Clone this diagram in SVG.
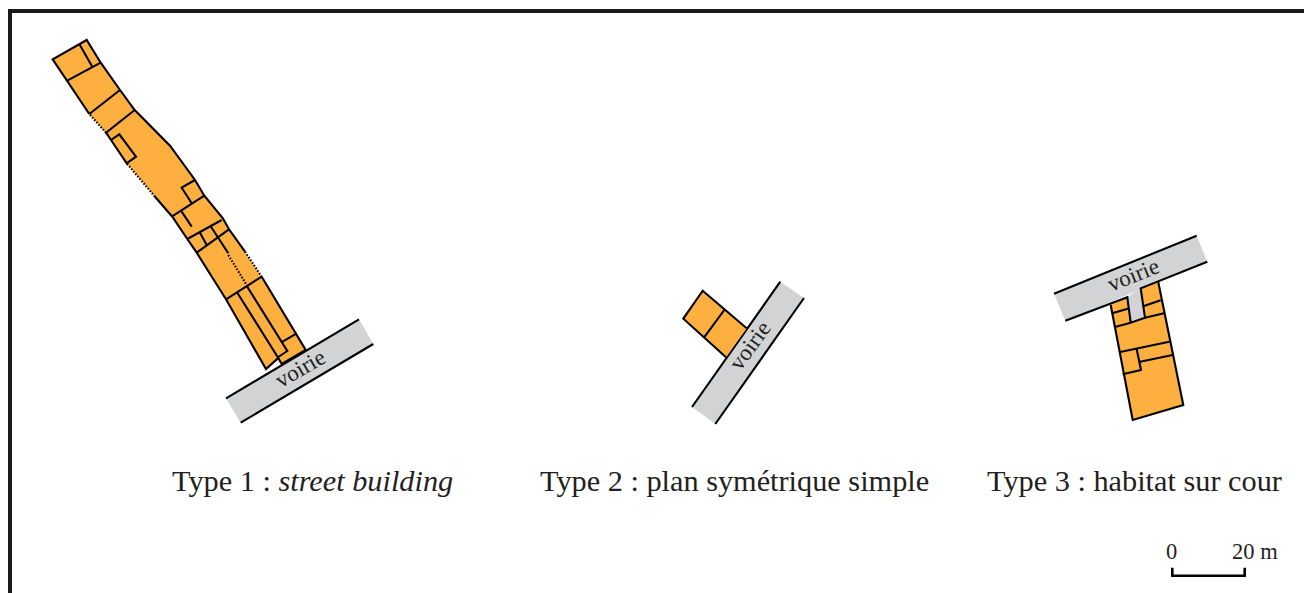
<svg xmlns="http://www.w3.org/2000/svg" width="1304" height="593" viewBox="0 0 1304 593">
<style>
.b{fill:#fdb03f;stroke:none}
.r{fill:#d1d3d4;stroke:none}
.l{fill:none;stroke:#000;stroke-width:2.1;stroke-linejoin:miter;stroke-linecap:butt}
.d{fill:none;stroke:#000;stroke-width:2.1;stroke-dasharray:1.6 1.6}
.t{font-family:"Liberation Serif","Times New Roman",serif;fill:#231f20}
.c{font-size:30.3px}
.v{font-size:23px;text-anchor:middle}
.s{font-size:22.5px}
</style>
<rect width="1304" height="593" fill="#fff"/>
<path d="M1304 11H10V593" fill="none" stroke="#1a1a1a" stroke-width="4"/>
<g id="type1">
<polygon class="r" points="226,398.3 359,319.3 373.3,344 240.7,422.7"/>
<path class="l" d="M226,398.3L359,319.3M240.7,422.7L373.3,344"/>
<polygon class="b" points="52.7,59.3 86.7,40 100.7,62.7 120,90 134.7,110 170,145.7 195,180 204.3,195.7 222.7,218 229,229.3 261.7,276.7 305.7,350 281.7,364 278.3,360 266,369 226,299.3 196.7,252.7 187.3,239 172.3,216.7 155,196.7 126.7,163.3 111,140 106,132.7 89.3,114"/>
<path class="l" d="M89.3,114L52.7,59.3L86.7,40L100.7,62.7L120,90L134.7,110L170,145.7L195,180L204.3,195.7L222.7,218L229,229.3L245,251.7"/>
<path class="d" d="M245,251.7L261.7,276.7"/>
<path class="l" d="M261.7,276.7L305.7,350L281.7,364L278.3,358L266,369L226,299.3L196.7,252.7L187.3,239L172.3,216.7L155,196.7"/>
<path class="d" d="M155,196.7L126.7,163.3"/>
<path class="d" d="M106,132.7L89.3,114"/>
<path class="l" d="M106,132.7L111,140L126.7,163.3L136,156.7L119.3,134.3L111,140"/>
<path class="l" d="M79.3,44L92.3,66.7M67.3,80.7L100.7,62.7M89.3,114L120,90M106,132.7L134.7,110"/>
<path class="l" d="M195,180L181.7,187.7L191.7,203.3M171.7,216.7L204.3,195.7M181.7,211.7L191.7,226.7"/>
<path class="l" d="M187.3,239L221.7,220M196.7,252.7L229,229.3M200,232.7L206.7,245M211,226.7L228.3,253.3"/>
<path class="d" d="M228.3,255L246.7,285"/>
<path class="l" d="M226,299.3L261.7,276.7M237.3,292.7L278.3,358M247.3,286.7L287.3,351L278.3,357M282.7,341.7L296.7,333.3"/>
<text class="t v" transform="translate(304,375) rotate(-30)">voirie</text>
</g>
<g id="type2">
<polygon class="r" points="780.3,281.7 804,298 715.3,424 692,407"/>
<path class="l" d="M780.3,281.7L692,407M804,298L715.3,424"/>
<polygon class="b" points="683.3,318.7 702.7,290.7 746.7,328.3 726,357.3"/>
<path class="l" d="M746.7,328.3L702.7,290.7L683.3,318.7L726,357.3M724.3,310L704.7,336.7"/>
<text class="t v" transform="translate(756,350) rotate(-54)">voirie</text>
</g>
<g id="type3">
<polygon class="r" points="1054,293.7 1196.7,235.7 1207.3,261.7 1065.3,320.7"/>
<polygon class="r" points="1127.3,297.3 1140.7,288.3 1145,317.7 1130.7,322.7"/>
<polygon class="b" points="1110.7,305 1127.3,297.3 1130.7,322.7 1145,317.7 1140.7,288.3 1158.3,282.3 1183.3,405 1132.7,420"/>
<path class="l" d="M1054,293.7L1196.7,235.7M1065.3,320.7L1127.3,297.3L1130.7,322.7L1145,317.7L1140.7,288.3L1207.3,261.7"/>
<path class="l" d="M1110.7,305L1132.7,420L1183.3,405L1158.3,282.3"/>
<path class="l" d="M1112.3,313.3L1129.3,308.3M1114,327.3L1130.7,322.7M1145,317.7L1164,313.3M1144,306L1160.7,300.3M1119,352.3L1169.3,341.7M1140,361.7L1172.7,355M1136.7,349.3L1141,370L1122.7,374.3"/>
<text class="t v" transform="translate(1136,282) rotate(-22)">voirie</text>
</g>
<g id="labels">
<text class="t c" x="172" y="491">Type 1 : <tspan font-style="italic">street building</tspan></text>
<text class="t c" x="540" y="491">Type 2 : plan symétrique simple</text>
<text class="t c" x="987" y="491">Type 3 : habitat sur cour</text>
</g>
<g id="scale">
<path d="M1172.3,567.7V575.7H1244.7V567.7" fill="none" stroke="#000" stroke-width="2.6"/>
<text class="t s" x="1166" y="559">0</text>
<text class="t s" x="1232" y="559">20 m</text>
</g>
</svg>
